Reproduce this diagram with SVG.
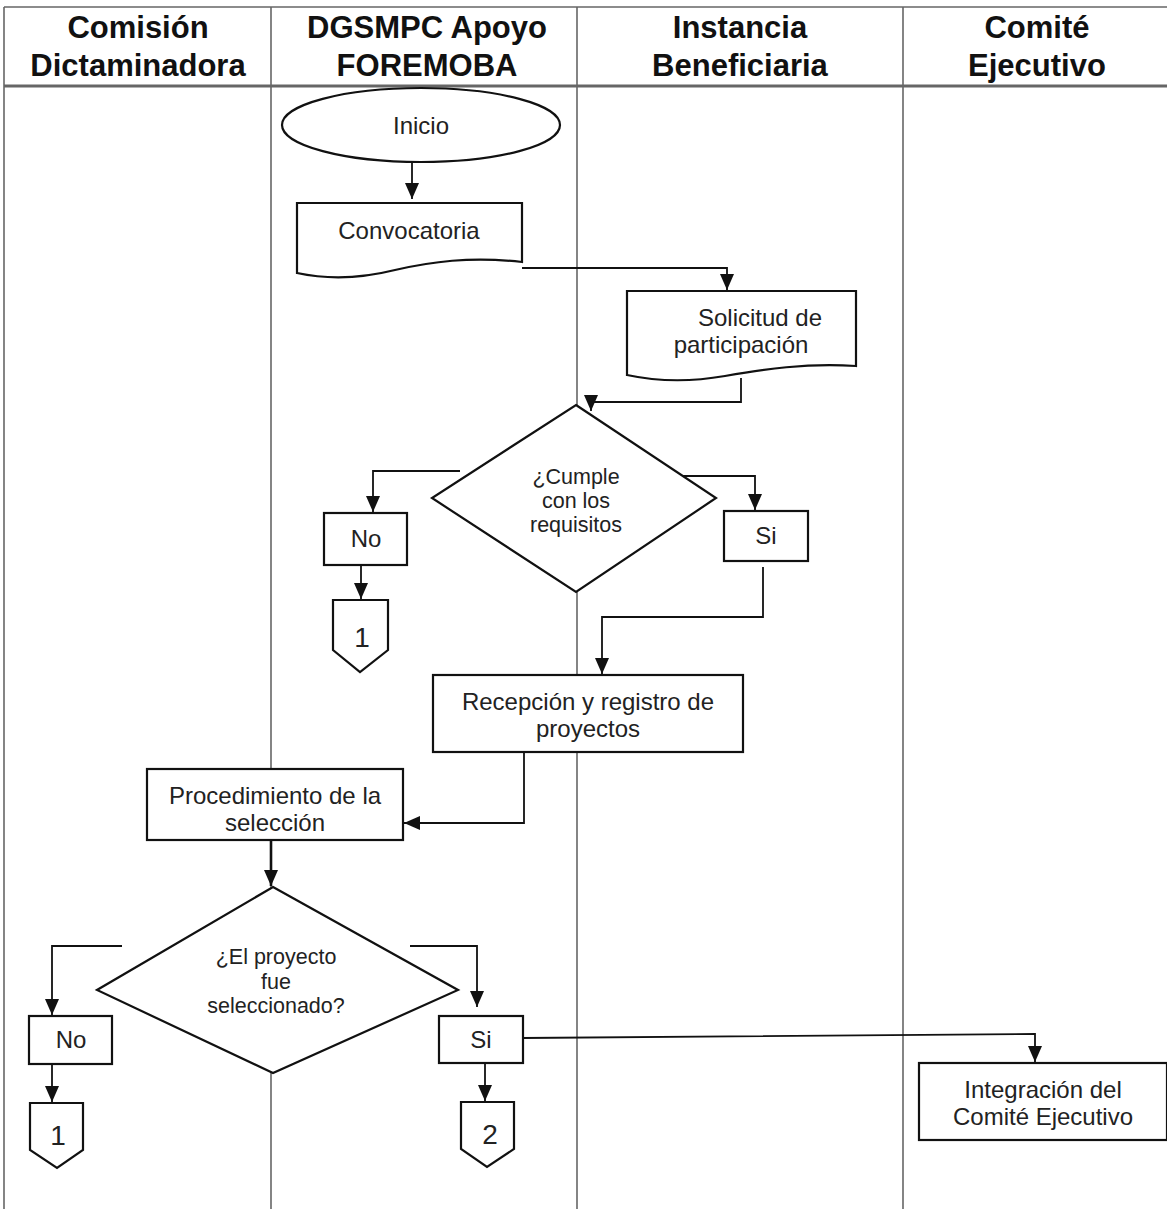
<svg xmlns="http://www.w3.org/2000/svg" width="1167" height="1209" viewBox="0 0 1167 1209">
<defs>
<style>
.lane{stroke:#666;stroke-width:1.6;fill:none}
.hdr{font-family:"Liberation Sans",Arial,sans-serif;font-weight:bold;font-size:31px;fill:#111;text-anchor:middle}
.node{fill:#fff;stroke:#111;stroke-width:2.2}
.t{font-family:"Liberation Sans",Arial,sans-serif;font-size:24px;fill:#222;text-anchor:middle}
.ts{font-family:"Liberation Sans",Arial,sans-serif;font-size:21.5px;fill:#222;text-anchor:middle}
.tn{font-family:"Liberation Sans",Arial,sans-serif;font-size:28px;fill:#222;text-anchor:middle}
.c{fill:none;stroke:#111;stroke-width:1.8}
.ck{fill:none;stroke:#111;stroke-width:2.6}
</style>
<marker id="ah" markerUnits="userSpaceOnUse" markerWidth="18" markerHeight="18" viewBox="0 0 18 18" refX="16" refY="9" orient="auto">
<path d="M0,2 L16,9 L0,16 Z" fill="#111"/>
</marker>
</defs>
<rect width="1167" height="1209" fill="#fff"/>
<g id="lanes">
<line class="lane" x1="4" y1="7" x2="1167" y2="7"/>
<line class="lane" x1="4" y1="7" x2="4" y2="1209"/>
<line class="lane" x1="271" y1="7" x2="271" y2="1209"/>
<line class="lane" x1="577" y1="7" x2="577" y2="1209"/>
<line class="lane" x1="903" y1="7" x2="903" y2="1209"/>
<line x1="4" y1="86" x2="1167" y2="86" stroke="#666" stroke-width="3"/>
<text class="hdr" x="138" y="38">Comisión</text>
<text class="hdr" x="138" y="76">Dictaminadora</text>
<text class="hdr" x="427" y="38">DGSMPC Apoyo</text>
<text class="hdr" x="427" y="76">FOREMOBA</text>
<text class="hdr" x="740" y="38">Instancia</text>
<text class="hdr" x="740" y="76">Beneficiaria</text>
<text class="hdr" x="1037" y="38">Comité</text>
<text class="hdr" x="1037" y="76">Ejecutivo</text>
</g>
<g id="connectors">
<path class="c" d="M412,162 V199" marker-end="url(#ah)"/>
<path class="c" d="M522,268 H727 V290" marker-end="url(#ah)"/>
<path class="c" d="M741,378 V402 H591 V411" marker-end="url(#ah)"/>
<path class="c" d="M460,471 H373 V512" marker-end="url(#ah)"/>
<path class="c" d="M361,565 V599" marker-end="url(#ah)"/>
<path class="c" d="M680,476 H755 V510" marker-end="url(#ah)"/>
<path class="c" d="M763,567 V617 H602 V674" marker-end="url(#ah)"/>
<path class="c" d="M524,752 V823 H404" marker-end="url(#ah)"/>
<path class="ck" d="M271,840 V886" marker-end="url(#ah)"/>
<path class="c" d="M122,946 H52 V1015" marker-end="url(#ah)"/>
<path class="c" d="M52,1064 V1102" marker-end="url(#ah)"/>
<path class="c" d="M410,946 H477 V1007" marker-end="url(#ah)"/>
<path class="c" d="M485,1063 V1101" marker-end="url(#ah)"/>
<path class="c" d="M523,1038 L1035,1034 V1062" marker-end="url(#ah)"/>
</g>
<g id="inicio">
<ellipse class="node" cx="421" cy="125" rx="139" ry="37"/>
<text class="t" x="421" y="134">Inicio</text>
</g>
<g id="convocatoria">
<path class="node" d="M297,203 H522 V262 C470,256 430,262 395,270 C355,280 325,279 297,273 Z"/>
<text class="t" x="409" y="239">Convocatoria</text>
</g>
<g id="solicitud">
<path class="node" d="M627,291 H856 V366 C805,363 765,369 725,376 C685,383 655,381 627,375 Z"/>
<text class="t" x="760" y="326">Solicitud de</text>
<text class="t" x="741" y="353">participación</text>
</g>
<g id="decision1">
<path class="node" d="M576,405 L716,498 L576,592 L432,498 Z"/>
<text class="ts" x="576" y="484">¿Cumple</text>
<text class="ts" x="576" y="508">con los</text>
<text class="ts" x="576" y="532">requisitos</text>
</g>
<g id="no1">
<rect class="node" x="324" y="513" width="83" height="52"/>
<text class="t" x="366" y="547">No</text>
</g>
<g id="off1a">
<path class="node" d="M333,600 H388 V650 L360,672 L333,650 Z"/>
<text class="tn" x="362" y="647">1</text>
</g>
<g id="si1">
<rect class="node" x="724" y="511" width="84" height="50"/>
<text class="t" x="766" y="544">Si</text>
</g>
<g id="recepcion">
<rect class="node" x="433" y="675" width="310" height="77"/>
<text class="t" x="588" y="710">Recepción y registro de</text>
<text class="t" x="588" y="737">proyectos</text>
</g>
<g id="procedimiento">
<rect class="node" x="147" y="769" width="256" height="71"/>
<text class="t" x="275" y="804">Procedimiento de la</text>
<text class="t" x="275" y="831">selección</text>
</g>
<g id="decision2">
<path class="node" d="M273,887 L458,990 L273,1073 L97,990 Z"/>
<text class="ts" x="276" y="964">¿El proyecto</text>
<text class="ts" x="276" y="989">fue</text>
<text class="ts" x="276" y="1013">seleccionado?</text>
</g>
<g id="no2">
<rect class="node" x="29" y="1016" width="83" height="48"/>
<text class="t" x="71" y="1048">No</text>
</g>
<g id="off1b">
<path class="node" d="M30,1103 H83 V1150 L57,1168 L30,1150 Z"/>
<text class="tn" x="58" y="1145">1</text>
</g>
<g id="si2">
<rect class="node" x="439" y="1016" width="84" height="47"/>
<text class="t" x="481" y="1048">Si</text>
</g>
<g id="off2">
<path class="node" d="M461,1102 H514 V1149 L487,1167 L461,1149 Z"/>
<text class="tn" x="490" y="1144">2</text>
</g>
<g id="integracion">
<rect class="node" x="919" y="1063" width="248" height="77"/>
<text class="t" x="1043" y="1098">Integración del</text>
<text class="t" x="1043" y="1125">Comité Ejecutivo</text>
</g>
</svg>
